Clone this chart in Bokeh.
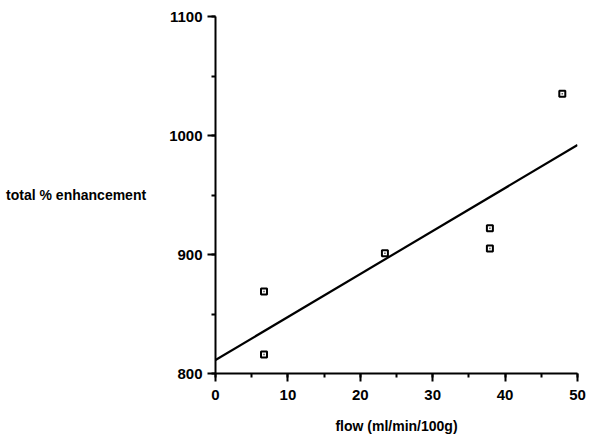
import numpy as np
from bokeh.plotting import figure
from bokeh.models import SingleIntervalTicker, Range1d
from bokeh.embed import file_html
from bokeh.resources import INLINE

# data
flow = [6.7, 6.7, 23.4, 37.9, 37.9, 47.9]
enhancement = [869, 816, 901, 922, 905, 1035]
fit_x = [0, 50]

slope, intercept = np.polyfit(flow, enhancement, 1)
fit_y = [intercept + slope * v for v in fit_x]

FONT = "Liberation Sans"

p = figure(width=592, height=436, output_backend="svg", toolbar_location=None,
           x_range=Range1d(0, 50), y_range=Range1d(800, 1100),
           min_border_left=215, min_border_right=15, min_border_top=16, min_border_bottom=62)
p.outline_line_color = None
p.xgrid.visible = False
p.ygrid.visible = False
p.background_fill_color = "white"

p.line(fit_x, fit_y, line_color="black", line_width=2.2)
p.scatter(flow, enhancement, marker="square", size=6, fill_color="white",
          line_color="black", line_width=2)
p.scatter(flow, enhancement, marker="square", size=1.5, fill_color="#555555",
          line_color=None)

p.xaxis.ticker = SingleIntervalTicker(interval=10, num_minor_ticks=2)
p.yaxis.ticker = SingleIntervalTicker(interval=100, num_minor_ticks=2)
for ax in (p.xaxis[0], p.yaxis[0]):
    ax.axis_line_width = 2
    ax.axis_line_color = "black"
    ax.major_tick_line_width = 2
    ax.minor_tick_line_width = 2
    ax.major_tick_out = 8
    ax.major_tick_in = 0
    ax.minor_tick_out = 4
    ax.minor_tick_in = 0
    ax.major_label_text_font = FONT
    ax.major_label_text_font_style = "bold"
    ax.major_label_text_font_size = "15px"
    ax.major_label_text_color = "black"
    ax.axis_label_text_font = FONT
    ax.axis_label_text_font_style = "bold"
    ax.axis_label_text_font_size = "14px"
    ax.axis_label_text_color = "black"

p.xaxis.major_label_standoff = 8
p.yaxis.major_label_standoff = 5
p.xaxis.axis_label = "flow (ml/min/100g)"
p.xaxis.axis_label_standoff = 15

p.yaxis.axis_label = "total % enhancement"
p.yaxis.axis_label_orientation = "horizontal"
p.yaxis.axis_label_text_baseline = "top"
p.yaxis.axis_label_standoff = 20

open("out.html", "w").write(file_html(p, INLINE))
